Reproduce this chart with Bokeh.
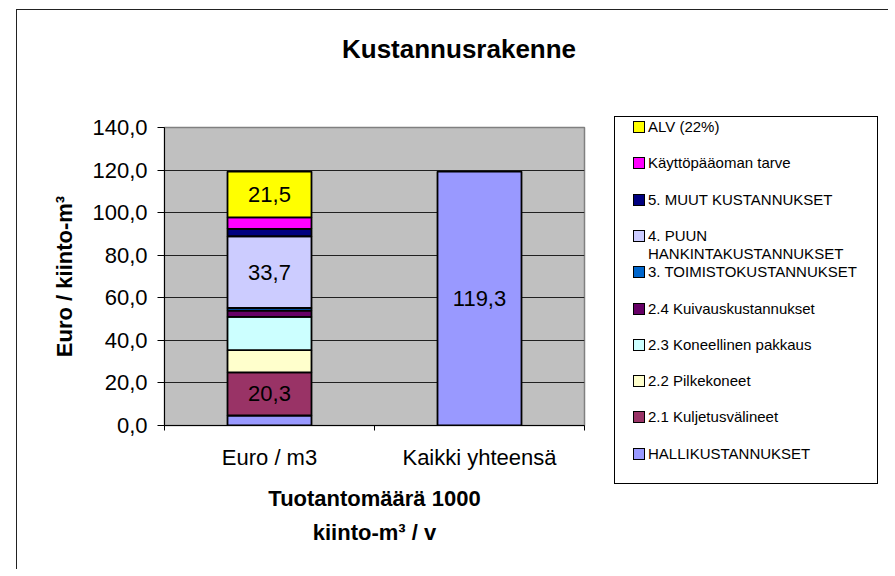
from bokeh.plotting import figure
from bokeh.models import Range1d, FixedTicker, ColumnDataSource, Div
from bokeh.layouts import row, column
from bokeh.core.properties import value
from bokeh.embed import file_html
from bokeh.resources import INLINE
import html

NaN = float("nan")

# ---------------- data ----------------
categories = ["Euro / m3", "Kaikki yhteensä"]
series_names = [
    "HALLIKUSTANNUKSET",
    "2.1 Kuljetusvälineet",
    "2.2 Pilkekoneet",
    "2.3 Koneellinen pakkaus",
    "2.4 Kuivauskustannukset",
    "3. TOIMISTOKUSTANNUKSET",
    "4. PUUN\nHANKINTAKUSTANNUKSET",
    "5. MUUT KUSTANNUKSET",
    "Käyttöpääoman tarve",
    "ALV (22%)",
]
euro_per_m3 = [4.7, 20.3, 10.4, 15.6, 3.0, 1.2, 33.7, 3.5, 5.4, 21.5]
kaikki_yhteensa = [119.3, NaN, NaN, NaN, NaN, NaN, NaN, NaN, NaN, NaN]
series_colors = ["#9999FF", "#993366", "#FFFFCC", "#CCFFFF", "#660066",
                 "#0066CC", "#CCCCFF", "#000080", "#FF00FF", "#FFFF00"]
y_ticks = [0, 20, 40, 60, 80, 100, 120, 140]
y_tick_labels = ["0,0", "20,0", "40,0", "60,0", "80,0", "100,0", "120,0", "140,0"]
title_text = "Kustannusrakenne"
y_title = "Euro / kiinto-m³"
x_title = "Tuotantomäärä 1000\nkiinto-m³ / v"

FONT = "Liberation Sans"

# ---------------- title ----------------
title_div = Div(
    text=('<div style="padding-top:24px;padding-left:325px;line-height:30px;'
          'font-family:\'Liberation Sans\';font-size:26px;font-weight:bold;color:#000;'
          'white-space:nowrap;">%s</div>' % html.escape(title_text)),
    width=871, height=70, margin=0,
)

# ---------------- main chart ----------------
p = figure(
    width=597, height=489,
    x_range=Range1d(0, len(categories)), y_range=Range1d(0, 140),
    output_backend="svg", toolbar_location=None,
    min_border_left=147, min_border_right=30, min_border_top=47, min_border_bottom=144,
    background_fill_color="#C0C0C0", border_fill_color="white",
    outline_line_color="#808080", outline_line_width=1.5, margin=0,
)

xs = [i + 0.5 for i in range(len(categories))]
keys = ["s%d" % i for i in range(len(series_names))]
data = {"x": xs}
for k, a, b in zip(keys, euro_per_m3, kaikki_yhteensa):
    data[k] = [a, b]
src = ColumnDataSource(data)

p.vbar_stack(keys, x="x", width=0.4, source=src,
             fill_color=series_colors, line_color="black", line_width=1.8)

# data labels (segments of 20 or more)
lx, ly, lt = [], [], []
for ci, vals in enumerate([euro_per_m3, kaikki_yhteensa]):
    cum = 0.0
    for v in vals:
        if v == v and v >= 20:
            lx.append(xs[ci])
            ly.append(cum + v / 2)
            lt.append(("%.1f" % v).replace(".", ","))
        if v == v:
            cum += v
p.text(x=lx, y=ly, text=lt, text_align="center", text_baseline="middle",
       text_font=value(FONT), text_font_size="22px", text_color="black")

# axes
p.xaxis.ticker = FixedTicker(ticks=xs, minor_ticks=list(range(len(categories) + 1)))
p.xaxis.major_label_overrides = {x: c for x, c in zip(xs, categories)}
p.xaxis.major_tick_out = 0
p.xaxis.major_tick_in = 0
p.xaxis.minor_tick_out = 5
p.xaxis.minor_tick_in = 0
p.xaxis.minor_tick_line_color = "black"
p.xaxis.major_label_standoff = 14
p.xaxis.axis_label = x_title
p.xaxis.axis_label_standoff = 13
p.xaxis.axis_label_text_line_height = 1.38

p.yaxis.ticker = FixedTicker(ticks=y_ticks, minor_ticks=[])
p.yaxis.major_label_overrides = {t: l for t, l in zip(y_ticks, y_tick_labels)}
p.yaxis.major_tick_out = 7
p.yaxis.major_tick_in = 0
p.yaxis.major_label_standoff = 10
p.yaxis.axis_label = y_title
p.yaxis.axis_label_standoff = 12

for ax in (p.xaxis, p.yaxis):
    ax.axis_line_color = "black"
    ax.major_tick_line_color = "black"
    ax.major_label_text_font = FONT
    ax.major_label_text_font_size = "22px"
    ax.major_label_text_color = "black"
    ax.axis_label_text_font = FONT
    ax.axis_label_text_font_size = "22px"
    ax.axis_label_text_font_style = "bold"
    ax.axis_label_text_color = "black"

p.xgrid.visible = False
p.ygrid.ticker = FixedTicker(ticks=y_ticks, minor_ticks=[])
p.ygrid.grid_line_color = "#202020"
p.ygrid.grid_line_width = 1

# ---------------- legend (HTML box beside the chart) ----------------
BOX_TOP, BOX_W, BOX_H = 36, 264, 368
FIRST, PITCH = 11, 36.3
parts = ['<div style="position:relative;width:274px;height:489px;">',
         '<div style="position:absolute;left:0px;top:%dpx;width:%dpx;height:%dpx;'
         'border:1px solid #000;box-sizing:border-box;background:#fff;"></div>'
         % (BOX_TOP, BOX_W, BOX_H)]
for i, (name, col) in enumerate(zip(reversed(series_names), reversed(series_colors))):
    c = BOX_TOP + FIRST + PITCH * i
    parts.append('<div style="position:absolute;left:19px;top:%.1fpx;width:12px;height:12px;'
                 'background:%s;border:1.5px solid #000;box-sizing:border-box;"></div>'
                 % (c - 6, col))
    parts.append('<div style="position:absolute;left:34px;top:%.1fpx;font-family:\'Liberation Sans\';'
                 'font-size:15px;line-height:18px;color:#000;white-space:pre;">%s</div>'
                 % (c - 9, html.escape(name)))
parts.append('</div>')
legend_div = Div(text="".join(parts), width=274, height=489, margin=0)

layout = column(title_div, row(p, legend_div, margin=0, spacing=0),
                margin=(9, 0, 0, 16), spacing=0)
layout.styles = {"border-left": "1.5px solid #222", "border-top": "1.5px solid #222"}

open("out.html", "w", encoding="utf-8").write(file_html(layout, INLINE))
